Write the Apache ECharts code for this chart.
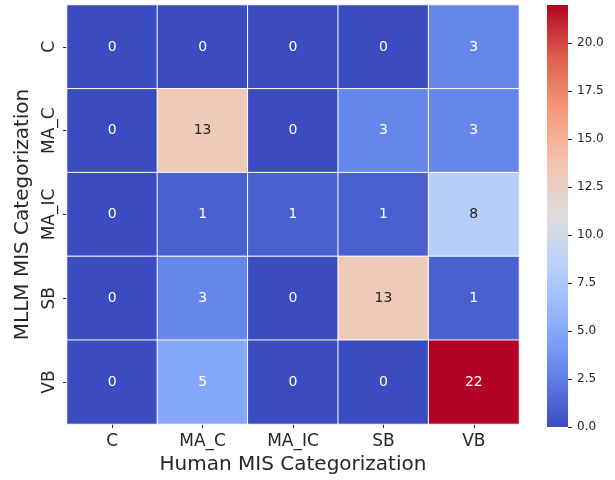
<!DOCTYPE html>
<html><head><meta charset="utf-8">
<script src="https://cdn.jsdelivr.net/npm/echarts@6/dist/echarts.min.js"></script>
<style>html,body{margin:0;padding:0;background:#fff}#c{width:615px;height:480px}</style>
</head><body><div id="c"></div>
<script>
const humanCats = ['C','MA_C','MA_IC','SB','VB'];
const mllmCats = ['C','MA_C','MA_IC','SB','VB'];
const rowC    = [0,0,0,0,3];
const rowMA_C = [0,13,0,3,3];
const rowMA_IC= [0,1,1,1,8];
const rowSB   = [0,3,0,13,1];
const rowVB   = [0,5,0,0,22];
const colorbarTicks = [0,2.5,5,7.5,10,12.5,15,17.5,20];
const vMin = 0, vMax = 22;

const rows = [rowC,rowMA_C,rowMA_IC,rowSB,rowVB];
const coolwarm = ['#3b4cc0','#6282ea','#8db0fe','#b8d0f9','#dddddd','#f5c4ac','#f49a7b','#de604d','#b40426'];
const FONT = 'DejaVu Sans';
const data = [];
rows.forEach((r,yi)=>r.forEach((v,xi)=>{
  const frac = (v - vMin)/(vMax - vMin);
  const dark = frac > 0.3 && frac < 0.7;
  data.push({value:[xi,yi,v], label:{color: dark ? '#262626' : '#ffffff'}});
}));

const chart = echarts.init(document.getElementById('c'));
chart.setOption({
  animation:false,
  backgroundColor:'#fff',
  grid:[
    {left:67, right:96, top:5, bottom:53},
    {left:547, width:21, top:5, bottom:53}
  ],
  xAxis:[
    {type:'category', gridIndex:0, data:humanCats,
     axisLine:{show:false}, axisTick:{show:true, alignWithLabel:true, length:4, lineStyle:{color:'#262626'}},
     axisLabel:{fontFamily:FONT, fontSize:17, color:'#262626', margin:9},
     splitLine:{show:false},
     name:'Human MIS Categorization', nameLocation:'middle', nameGap:31,
     nameTextStyle:{fontFamily:FONT, fontSize:20, color:'#262626'}},
    {type:'category', gridIndex:1, data:['cb'], show:false, boundaryGap:true}
  ],
  yAxis:[
    {type:'category', gridIndex:0, data:mllmCats, inverse:true,
     axisLine:{show:false}, axisTick:{show:true, alignWithLabel:true, length:4, lineStyle:{color:'#262626'}},
     axisLabel:{fontFamily:FONT, fontSize:17, color:'#262626', rotate:90, margin:9},
     splitLine:{show:false},
     name:'MLLM MIS Categorization', nameLocation:'middle', nameGap:31, nameRotate:90,
     nameTextStyle:{fontFamily:FONT, fontSize:20, color:'#262626'}},
    {type:'value', gridIndex:1, min:vMin, max:vMax, position:'right',
     axisLine:{show:false},
     axisTick:{show:true, length:4, lineStyle:{color:'#262626'}, customValues:colorbarTicks},
     axisLabel:{fontFamily:FONT, fontSize:12, color:'#262626', margin:9, customValues:colorbarTicks,
       formatter:v=>v.toFixed(1)},
     splitLine:{show:false}}
  ],
  visualMap:{show:false, type:'continuous', min:vMin, max:vMax, seriesIndex:0, dimension:2,
    inRange:{color:coolwarm}},
  series:[
    {type:'heatmap', xAxisIndex:0, yAxisIndex:0, data:data,
     itemStyle:{borderColor:'#ffffff', borderWidth:1},
     label:{show:true, fontFamily:FONT, fontSize:14, formatter:p=>String(p.value[2])},
     emphasis:{disabled:true}},
    {type:'bar', xAxisIndex:1, yAxisIndex:1, data:[vMax], barWidth:'100%',
     itemStyle:{color:new echarts.graphic.LinearGradient(0,1,0,0,
       coolwarm.map((c,i)=>({offset:i/(coolwarm.length-1), color:c})))},
     silent:true}
  ]
});
</script></body></html>
